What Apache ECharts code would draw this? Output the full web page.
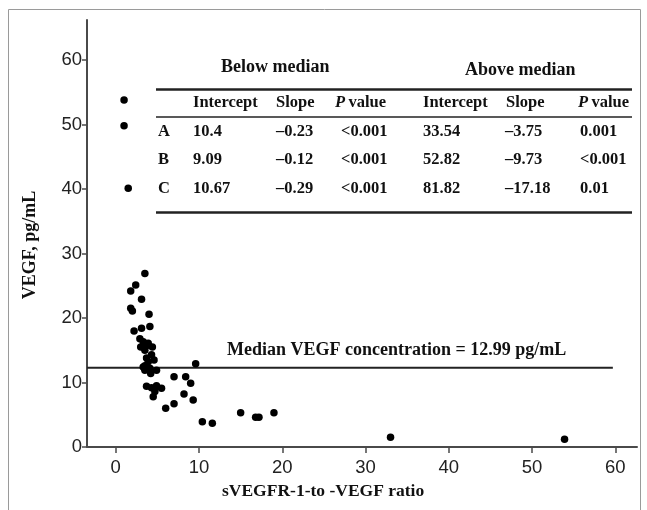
<!DOCTYPE html>
<html>
<head>
<meta charset="utf-8">
<script src="https://cdn.jsdelivr.net/npm/echarts@6/dist/echarts.min.js"></script>
<style>html,body{margin:0;padding:0;background:#fff;}#c{width:647px;height:510px;}</style>
</head>
<body>
<div id="c"></div>
<script>
// ---- data ----
const ratio = [1.0,1.0,1.5,
  3.5,2.4,1.8,3.1,1.8,2.0,4.0,
  2.2,3.1,4.1,2.9,3.3,3.9,3.0,4.4,3.5,3.7,4.3,3.7,4.6,3.9,3.5,3.3,4.1,4.9,3.5,4.2,
  9.6,7.0,8.4,9.0,
  3.7,4.3,4.9,5.5,4.7,4.5,8.2,9.3,7.0,6.0,
  10.4,11.6,15.0,16.8,17.2,19.0,33.0,53.9];
const vegf = [53.8,49.8,40.1,
  26.9,25.1,24.2,22.9,21.5,21.1,20.6,
  18.0,18.4,18.7,16.8,16.3,16.1,15.5,15.5,15.0,15.7,14.3,13.8,13.5,13.2,12.6,12.4,12.2,11.9,11.9,11.4,
  12.9,10.9,10.9,9.9,
  9.4,9.2,9.5,9.1,8.6,7.8,8.2,7.3,6.7,6.0,
  3.9,3.7,5.3,4.6,4.6,5.3,1.5,1.2];
const xTicks = [0,10,20,30,40,50,60];
const yTicks = [0,10,20,30,40,50,60];
const medianLineY = 12.3;      // drawn position of the median line
const medianLineEndX = 59.7;
const medianText = 'Median VEGF concentration = 12.99 pg/mL';
const xTitle = 'sVEGFR-1-to -VEGF ratio';
const yTitle = 'VEGF, pg/mL';
const groupHeads = ['Below median','Above median'];
const colHeads = ['Intercept','Slope','P value','Intercept','Slope','P value'];
const rowLabels = ['A','B','C'];
const tableRows = [
  ['10.4','\u20130.23','<0.001','33.54','\u20133.75','0.001'],
  ['9.09','\u20130.12','<0.001','52.82','\u20139.73','<0.001'],
  ['10.67','\u20130.29','<0.001','81.82','\u201317.18','0.01']
];

const XMIN = -3.45, XMAX = 62.6, YMIN = 0, YMAX = 66.2;
const serif = '"Liberation Serif","Times New Roman",serif';
const sans = '"Liberation Sans",Arial,sans-serif';
const ink = '#111';

const points = ratio.map((r,i)=>[r, vegf[i]]);

// table graphics
const colX = [193, 276, 335, 423, 506, 578];
const valX = [193, 276, 341, 423, 505, 580];
const rowY = [132, 160, 189];
const g = [];
g.push({type:'rect', shape:{x:8.5,y:9.5,width:632,height:520}, style:{fill:'none',stroke:'#9a9a9a',lineWidth:1}, silent:true});
const T = (x,y,text,size,extra)=>Object.assign({type:'text', x:x, y:y, style:{text:text, font:'bold '+size+'px '+serif, fill:ink, verticalAlign:'middle', align:'left'}}, extra||{});
g.push(T(221, 67, groupHeads[0], 18));
g.push(T(465, 70, groupHeads[1], 18));
const rule = (y,w)=>({type:'line', shape:{x1:156,y1:y,x2:632,y2:y}, style:{stroke:'#222',lineWidth:w}});
g.push(rule(89.5,2.5));
g.push(rule(117,1.5));
g.push(rule(212.5,2.5));
colHeads.forEach((h,i)=>{
  if (h.indexOf('P ')===0) {
    g.push({type:'text', x:colX[i], y:103, style:{text:'{i|P} {b|value}', verticalAlign:'middle', align:'left', fill:ink,
      rich:{i:{font:'italic bold 16.5px '+serif, fill:ink}, b:{font:'bold 16.5px '+serif, fill:ink}}}});
  } else {
    g.push(T(colX[i], 103, h, 16.5));
  }
});
rowLabels.forEach((lab,r)=>{
  g.push(T(158, rowY[r], lab, 16.5));
  tableRows[r].forEach((v,c)=>g.push(T(valX[c], rowY[r], v, 16.5)));
});
g.push(T(227, 350, medianText, 18));
g.push(T(222, 491, xTitle, 17.5));
g.push({type:'text', x:30, y:245, rotation:Math.PI/2,
  style:{text:yTitle, font:'bold 18px '+serif, fill:ink, align:'center', verticalAlign:'middle'}});

const chart = echarts.init(document.getElementById('c'), null, {renderer:'canvas'});
chart.setOption({
  animation:false,
  backgroundColor:'#fff',
  grid:{left:87, right:10, top:20, bottom:63, containLabel:false},
  xAxis:{
    type:'value', min:XMIN, max:XMAX,
    axisLine:{onZero:false, lineStyle:{color:'#4a4a4a', width:2}},
    axisTick:{show:true, inside:false, length:6, lineStyle:{color:'#4a4a4a', width:1.5}, customValues:xTicks},
    axisLabel:{customValues:xTicks, fontFamily:sans, fontSize:18.5, color:'#222', margin:11},
    splitLine:{show:false}
  },
  yAxis:{
    type:'value', min:YMIN, max:YMAX,
    axisLine:{onZero:false, lineStyle:{color:'#4a4a4a', width:2}},
    axisTick:{show:true, inside:false, length:5, lineStyle:{color:'#4a4a4a', width:1.5}, customValues:yTicks},
    axisLabel:{customValues:yTicks, fontFamily:sans, fontSize:18.5, color:'#222', margin:5},
    splitLine:{show:false}
  },
  series:[
    {type:'line', data:[[XMIN, medianLineY],[medianLineEndX, medianLineY]], symbol:'none',
     lineStyle:{color:'#222', width:2}, silent:true, z:1},
    {type:'scatter', data:points, symbol:'circle', symbolSize:7.5,
     itemStyle:{color:'#000', opacity:1}, z:3}
  ],
  graphic:g
});
</script>
</body>
</html>
